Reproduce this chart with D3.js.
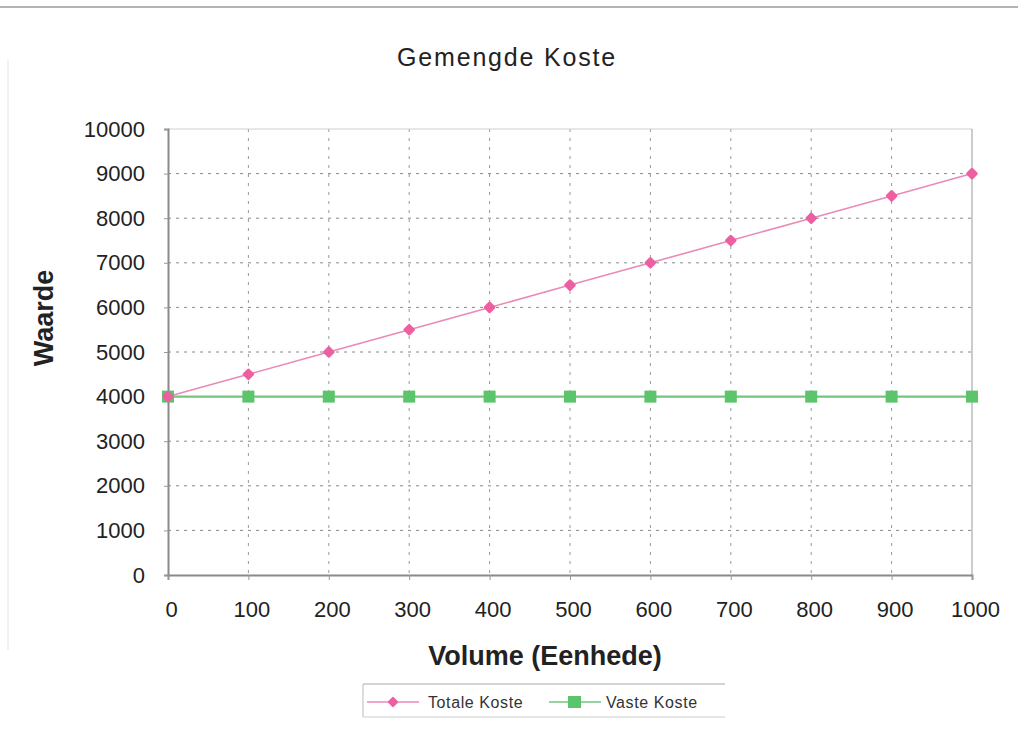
<!DOCTYPE html>
<html>
<head>
<meta charset="utf-8">
<script src="https://cdn.jsdelivr.net/npm/d3@7"></script>
<style>
  html, body { margin: 0; padding: 0; background: #fff; }
  svg { display: block; font-family: Arial, "Liberation Sans", sans-serif; }
</style>
</head>
<body>
<svg id="chart" width="1018" height="731"></svg>
<script>
// Volume (units) and the two cost series
const volumes = [0, 100, 200, 300, 400, 500, 600, 700, 800, 900, 1000];
const totaleKoste = [4000, 4500, 5000, 5500, 6000, 6500, 7000, 7500, 8000, 8500, 9000];
const vasteKoste = [4000, 4000, 4000, 4000, 4000, 4000, 4000, 4000, 4000, 4000, 4000];
const yTicks = [0, 1000, 2000, 3000, 4000, 5000, 6000, 7000, 8000, 9000, 10000];

(function () {
const svg = d3.select("#chart");
const W = 1018;
const pLeft = 168, pRight = 972, pTop = 129, pBottom = 575;

const x = d3.scaleLinear().domain([0, 1000]).range([pLeft, pRight]);
const y = d3.scaleLinear().domain([0, 10000]).range([pBottom, pTop]);

// page rule along the top edge
svg.append("line").attr("x1", 0).attr("x2", W).attr("y1", 7).attr("y2", 7)
  .attr("stroke", "#9a9a9a").attr("stroke-width", 1.5);
svg.append("line").attr("x1", 8).attr("x2", 8).attr("y1", 60).attr("y2", 650)
  .attr("stroke", "#e4e4e4").attr("stroke-width", 1);

// title
svg.append("text").attr("x", 507).attr("y", 66).attr("text-anchor", "middle")
  .attr("font-size", 25).attr("letter-spacing", 1.8).attr("fill", "#222")
  .text("Gemengde Koste");

// grid lines
const grid = svg.append("g");
grid.selectAll("line.h").data(yTicks.slice(1, -1)).join("line")
  .attr("x1", pLeft).attr("x2", pRight)
  .attr("y1", d => y(d)).attr("y2", d => y(d))
  .attr("stroke", "#888").attr("stroke-width", 1).attr("stroke-dasharray", "3,5");
grid.selectAll("line.v").data(volumes.slice(1, -1)).join("line")
  .attr("x1", d => x(d)).attr("x2", d => x(d))
  .attr("y1", pTop).attr("y2", pBottom)
  .attr("stroke", "#999").attr("stroke-width", 1).attr("stroke-dasharray", "3,6");

// plot frame: light top and right, darker axes
svg.append("line").attr("x1", pLeft).attr("x2", pRight).attr("y1", pTop).attr("y2", pTop)
  .attr("stroke", "#cfcfcf");
svg.append("line").attr("x1", pRight).attr("x2", pRight).attr("y1", pTop).attr("y2", pBottom)
  .attr("stroke", "#bbb").attr("stroke-width", 1.5);

// axes
const yAxis = svg.append("g").attr("transform", `translate(${pLeft},0)`)
  .call(d3.axisLeft(y).tickValues(yTicks).tickSize(4).tickPadding(19).tickFormat(d3.format("d")));
const xAxis = svg.append("g").attr("transform", `translate(0,${pBottom})`)
  .call(d3.axisBottom(x).tickValues(volumes).tickSize(5).tickPadding(21).tickFormat(d3.format("d")));
[yAxis, xAxis].forEach(a => {
  a.select(".domain").attr("stroke", "#8a8a8a").attr("stroke-width", 2);
  a.selectAll(".tick line").attr("stroke", "#999");
  a.selectAll(".tick text").attr("fill", "#222")
    .attr("font-family", "Arial, 'Liberation Sans', sans-serif");
});
yAxis.selectAll(".tick text").attr("font-size", 22);
xAxis.selectAll(".tick text").attr("font-size", 22).attr("dx", 3);

// axis titles
svg.append("text").attr("x", 545).attr("y", 665).attr("text-anchor", "middle")
  .attr("font-size", 27).attr("font-weight", "bold").attr("fill", "#222")
  .text("Volume (Eenhede)");
svg.append("text").attr("transform", "translate(53,318) rotate(-90)")
  .attr("text-anchor", "middle").attr("font-size", 27).attr("font-weight", "bold")
  .attr("fill", "#222").text("Waarde");

// series
const pink = "#ec5fa0", pinkLine = "#e98ab8", green = "#5cc46a", greenLine = "#72c480";
const line = d3.line().x((d, i) => x(volumes[i])).y(d => y(d));

svg.append("path").datum(vasteKoste).attr("d", line)
  .attr("fill", "none").attr("stroke", greenLine).attr("stroke-width", 2.2);
svg.append("path").datum(totaleKoste).attr("d", line)
  .attr("fill", "none").attr("stroke", pinkLine).attr("stroke-width", 1.6);

svg.selectAll("rect.vaste").data(vasteKoste).join("rect")
  .attr("x", (d, i) => x(volumes[i]) - 6).attr("y", d => y(d) - 6)
  .attr("width", 12).attr("height", 12).attr("fill", green);

// diamond markers: squares turned 45 degrees
svg.selectAll("rect.totale").data(totaleKoste).join("rect")
  .attr("x", -4.5).attr("y", -4.5).attr("width", 9).attr("height", 9).attr("rx", 1.5)
  .attr("transform", (d, i) => `translate(${x(volumes[i])},${y(d)}) rotate(45)`)
  .attr("fill", pink);

// legend
const lg = svg.append("g");
lg.append("line").attr("x1", 363).attr("x2", 725).attr("y1", 684).attr("y2", 684)
  .attr("stroke", "#aaa");
lg.append("line").attr("x1", 363).attr("x2", 725).attr("y1", 717).attr("y2", 717)
  .attr("stroke", "#ccc");
lg.append("line").attr("x1", 363).attr("x2", 363).attr("y1", 684).attr("y2", 717)
  .attr("stroke", "#bbb");
const items = [
  { name: "Totale Koste", x: 367, tx: 428, stroke: pinkLine, fill: pink, shape: "diamond" },
  { name: "Vaste Koste", x: 549, tx: 606, stroke: greenLine, fill: green, shape: "square" }
];
items.forEach(it => {
  const cy = 702;
  lg.append("line").attr("x1", it.x).attr("x2", it.x + 52).attr("y1", cy).attr("y2", cy)
    .attr("stroke", it.stroke).attr("stroke-width", 1.5);
  if (it.shape === "diamond") {
    lg.append("rect").attr("x", -4).attr("y", -4).attr("width", 8).attr("height", 8).attr("rx", 1.5)
      .attr("transform", `translate(${it.x + 26},${cy}) rotate(45)`).attr("fill", it.fill);
  } else {
    lg.append("rect").attr("x", it.x + 19).attr("y", cy - 6).attr("width", 13).attr("height", 12)
      .attr("fill", it.fill);
  }
  lg.append("text").attr("x", it.tx).attr("y", cy + 6).attr("font-size", 16)
    .attr("letter-spacing", 0.6).attr("fill", "#333").text(it.name);
});
})();
</script>
</body>
</html>
